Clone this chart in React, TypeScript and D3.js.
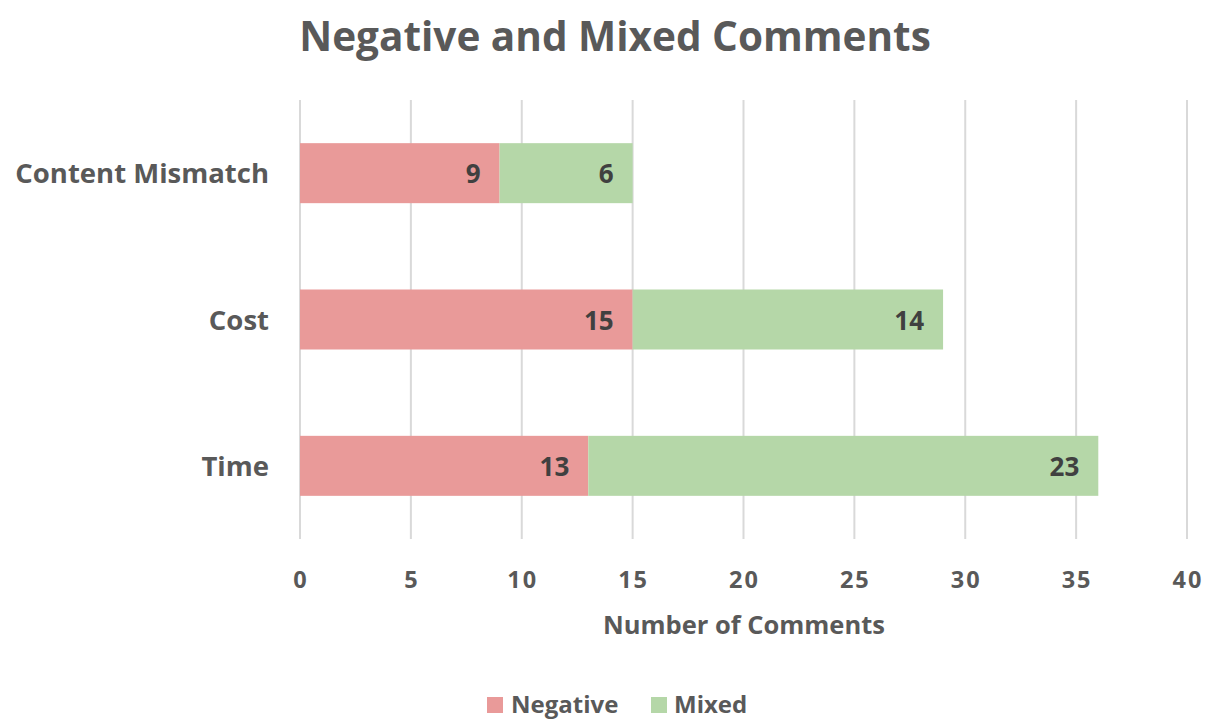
import React from "react";
import * as d3 from "d3";

const categories = ["Content Mismatch", "Cost", "Time"];
const negativeValues = [9, 15, 13];
const mixedValues = [6, 14, 23];
const seriesNames = ["Negative", "Mixed"];
const seriesColors = ["#E99A99", "#B5D7A8"];
const xTicks = [0, 5, 10, 15, 20, 25, 30, 35, 40];

const W = 1216;
const H = 720;
const FONT = "'Open Sans', Lato, sans-serif";

export default function App() {
  const x = d3.scaleLinear().domain([0, 40]).range([300, 1187]);
  const y = d3.scaleBand().domain(categories).range([100, 539]).paddingInner(0.59).paddingOuter(0.295);

  const rows = categories.map((c, i) => ({ cat: c, vals: [negativeValues[i], mixedValues[i]] }));
  const stack = d3.stack<any>().keys(["0", "1"]).value((d: any, k: string) => d.vals[+k]);
  const stacked = stack(rows as any);

  return (
    <svg width={W} height={H} style={{ position: "absolute", left: 0, top: 0 }}>
      <rect width={W} height={H} fill="#fff" />
      <text x={615} y={51} textAnchor="middle" fontFamily={FONT} fontWeight={700} fontSize={40.5} fill="#595959">
        Negative and Mixed Comments
      </text>
      {xTicks.map((t) => (
        <g key={t}>
          <line x1={x(t)} x2={x(t)} y1={100} y2={539} stroke="#D9D9D9" strokeWidth={2} />
          <text x={x(t) + 1} y={588} textAnchor="middle" fontFamily={FONT} fontWeight={700} fontSize={23.5} letterSpacing={2} fill="#595959">
            {t}
          </text>
        </g>
      ))}
      {stacked.map((s, si) =>
        s.map((d: any, i) => {
          const y0 = y(categories[i])!;
          return (
            <g key={si + "-" + i}>
              <rect x={x(d[0])} y={y0} width={x(d[1]) - x(d[0])} height={y.bandwidth()} fill={seriesColors[si]} />
              <text x={x(d[1]) - 19} y={y0 + y.bandwidth() / 2 + 10} textAnchor="end" fontFamily={FONT} fontWeight={700} fontSize={26} fill="#404040">
                {d[1] - d[0]}
              </text>
            </g>
          );
        })
      )}
      {categories.map((c) => (
        <text key={c} x={269} y={y(c)! + y.bandwidth() / 2 + 10} textAnchor="end" fontFamily={FONT} fontWeight={700} fontSize={27.5} fill="#595959">
          {c}
        </text>
      ))}
      <text x={744} y={634} textAnchor="middle" fontFamily={FONT} fontWeight={700} fontSize={25.5} fill="#595959">
        Number of Comments
      </text>
      <g>
        <rect x={487} y={697} width={16} height={16} fill={seriesColors[0]} />
        <text x={511} y={713} fontFamily={FONT} fontWeight={700} fontSize={24} fill="#595959">{seriesNames[0]}</text>
        <rect x={651} y={697} width={16} height={16} fill={seriesColors[1]} />
        <text x={674} y={713} fontFamily={FONT} fontWeight={700} fontSize={24} fill="#595959">{seriesNames[1]}</text>
      </g>
    </svg>
  );
}
